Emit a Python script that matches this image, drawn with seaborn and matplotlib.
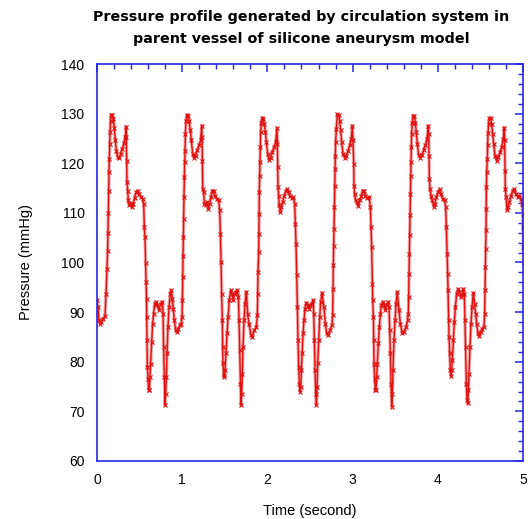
import pandas as pd
import matplotlib
matplotlib.use("Agg")
import matplotlib.pyplot as plt
from matplotlib.ticker import MultipleLocator
import seaborn as sns

# valores, um ciclo por lista (tempo em s, pressão em mmHg)
tempo_c1 = [0.000, 0.012, 0.023, 0.039, 0.051, 0.070, 0.094, 0.106, 0.117, 0.125, 0.129, 0.133,
            0.137, 0.141, 0.145, 0.149, 0.153, 0.160, 0.168, 0.180, 0.192, 0.203, 0.215, 0.227,
            0.243, 0.258, 0.278, 0.297, 0.317, 0.333, 0.340, 0.344, 0.348, 0.352, 0.360, 0.368,
            0.380, 0.395, 0.411, 0.426, 0.442, 0.462, 0.477, 0.493, 0.513, 0.536, 0.548, 0.556,
            0.563, 0.571, 0.577, 0.581, 0.583, 0.587, 0.591, 0.599, 0.606, 0.614, 0.622, 0.630,
            0.642, 0.653, 0.665, 0.677, 0.692, 0.708, 0.728, 0.747, 0.767, 0.775, 0.782, 0.790,
            0.798, 0.806, 0.814, 0.822, 0.833, 0.845, 0.861, 0.872, 0.884, 0.896, 0.908, 0.923,
            0.939, 0.955, 0.974, 0.990]
pres_c1 = [92.4, 91.0, 88.4, 87.7, 88.0, 88.7, 89.2, 93.7, 98.6, 102.4, 106.0, 110.0,
           114.5, 118.2, 120.9, 123.8, 126.2, 128.6, 129.8, 129.8, 128.9, 127.2, 124.7, 122.5,
           121.2, 121.1, 121.9, 122.9, 124.0, 125.2, 127.4, 125.2, 120.5, 116.2, 114.5, 112.5,
           111.5, 111.9, 111.2, 111.8, 113.0, 114.2, 114.5, 113.8, 113.2, 112.8, 111.8, 107.1,
           105.1, 99.8, 96.1, 92.7, 89.0, 84.3, 79.0, 76.6, 74.3, 74.3, 77.0, 79.6,
           84.0, 87.7, 89.7, 91.7, 92.1, 91.4, 90.4, 91.7, 92.1, 89.7, 83.0, 77.0,
           71.3, 73.6, 77.0, 81.7, 87.0, 91.0, 93.7, 94.4, 92.7, 90.7, 88.4, 86.4,
           86.0, 86.7, 87.4, 87.7]

tempo_c2 = [0.998, 1.002, 1.006, 1.010, 1.013, 1.017, 1.021, 1.025, 1.029, 1.033, 1.037, 1.045,
            1.057, 1.068, 1.080, 1.096, 1.107, 1.123, 1.139, 1.158, 1.178, 1.198, 1.217, 1.229,
            1.233, 1.237, 1.241, 1.252, 1.260, 1.276, 1.291, 1.307, 1.322, 1.338, 1.354, 1.369,
            1.385, 1.405, 1.428, 1.440, 1.448, 1.456, 1.463, 1.471, 1.475, 1.479, 1.487, 1.495,
            1.503, 1.514, 1.526, 1.538, 1.553, 1.569, 1.585, 1.600, 1.616, 1.632, 1.647, 1.659,
            1.667, 1.675, 1.683, 1.690, 1.698, 1.706, 1.714, 1.726, 1.737, 1.753]
pres_c2 = [89.0, 92.4, 97.1, 101.4, 105.1, 108.8, 113.2, 117.2, 120.2, 122.5, 125.9, 128.6,
           129.8, 129.6, 128.6, 126.6, 124.6, 121.9, 121.1, 121.5, 122.7, 123.6, 124.7, 127.6,
           125.2, 120.5, 114.8, 114.2, 111.8, 111.5, 112.2, 110.8, 111.8, 113.2, 114.4, 114.5,
           113.5, 112.7, 112.5, 110.5, 105.8, 100.1, 93.7, 88.4, 83.0, 79.7, 77.3, 77.0,
           78.3, 81.7, 85.7, 89.0, 92.4, 94.4, 93.7, 92.4, 93.7, 94.1, 94.4, 93.1,
           88.4, 82.3, 75.6, 71.3, 73.6, 77.6, 83.0, 88.4, 91.7, 94.1]

tempo_c3 = [1.768, 1.784, 1.808, 1.823, 1.847, 1.870, 1.882, 1.886, 1.890, 1.898, 1.901, 1.903,
            1.905, 1.909, 1.913, 1.917, 1.921, 1.929, 1.941, 1.952, 1.964, 1.976, 1.988, 2.003,
            2.019, 2.038, 2.058, 2.078, 2.097, 2.113, 2.117, 2.121, 2.125, 2.132, 2.140, 2.152,
            2.164, 2.179, 2.199, 2.218, 2.234, 2.250, 2.265, 2.285, 2.305, 2.320, 2.328, 2.336,
            2.344, 2.352, 2.359, 2.367, 2.375, 2.383, 2.391, 2.399, 2.407, 2.418, 2.430, 2.442,
            2.457, 2.473, 2.489, 2.504, 2.520, 2.536, 2.544, 2.551, 2.559, 2.567, 2.575, 2.583,
            2.591, 2.602, 2.614, 2.626, 2.641]
pres_c3 = [89.7, 87.7, 85.3, 85.0, 86.4, 87.0, 89.4, 93.7, 98.1, 102.1, 105.8, 109.8,
           114.2, 117.5, 120.2, 123.2, 126.2, 128.2, 129.2, 128.9, 127.9, 126.2, 124.2, 121.9,
           120.7, 121.1, 122.2, 123.2, 124.2, 127.1, 123.9, 119.2, 115.2, 113.5, 111.5, 110.1,
           111.2, 112.2, 113.5, 114.5, 114.8, 114.2, 113.3, 113.0, 113.2, 111.8, 107.8, 103.8,
           97.4, 91.0, 84.3, 79.0, 75.6, 74.0, 75.0, 78.3, 81.7, 85.7, 88.4, 90.7,
           91.9, 91.4, 90.7, 91.4, 91.7, 92.4, 89.7, 84.3, 78.3, 73.6, 71.3, 75.0,
           79.7, 84.3, 89.0, 92.1, 93.9]

tempo_c4 = [2.664, 2.680, 2.696, 2.715, 2.735, 2.758, 2.766, 2.770, 2.774, 2.778, 2.781, 2.785,
            2.789, 2.793, 2.797, 2.801, 2.809, 2.821, 2.836, 2.848, 2.860, 2.872, 2.887, 2.907,
            2.926, 2.946, 2.966, 2.985, 2.997, 3.005, 3.013, 3.017, 3.024, 3.036, 3.052, 3.067,
            3.083, 3.103, 3.118, 3.134, 3.150, 3.169, 3.193, 3.209, 3.216, 3.224, 3.232, 3.236,
            3.244, 3.248, 3.252, 3.259, 3.267, 3.275, 3.283, 3.291, 3.302, 3.314, 3.326, 3.338,
            3.353, 3.369, 3.385, 3.400, 3.416, 3.428, 3.436, 3.443, 3.451, 3.459, 3.467, 3.474,
            3.486, 3.498, 3.510, 3.524]
pres_c4 = [91.0, 87.7, 85.7, 85.3, 86.4, 87.4, 89.4, 94.7, 99.4, 103.4, 106.8, 111.1,
           115.5, 118.9, 121.5, 124.2, 126.9, 129.9, 129.8, 128.6, 126.6, 124.2, 121.9, 121.1,
           121.5, 122.5, 123.6, 124.9, 127.6, 124.6, 119.9, 115.5, 113.8, 112.5, 112.2, 111.3,
           112.5, 113.5, 114.5, 114.5, 113.5, 113.0, 113.2, 111.2, 107.1, 103.1, 95.7, 92.4,
           89.0, 84.3, 79.6, 76.6, 74.3, 74.3, 77.0, 79.6, 83.7, 87.0, 89.7, 91.4,
           92.1, 91.4, 90.4, 91.4, 92.1, 91.0, 86.4, 81.7, 75.6, 70.9, 73.6, 78.3,
           84.3, 88.4, 91.7, 94.1]

tempo_c5 = [3.545, 3.560, 3.584, 3.603, 3.627, 3.646, 3.654, 3.658, 3.662, 3.666, 3.670, 3.674,
            3.678, 3.681, 3.685, 3.689, 3.693, 3.701, 3.713, 3.724, 3.736, 3.748, 3.760, 3.775,
            3.795, 3.815, 3.834, 3.854, 3.874, 3.889, 3.893, 3.897, 3.901, 3.909, 3.920, 3.936,
            3.952, 3.967, 3.983, 4.002, 4.022, 4.038, 4.057, 4.081, 4.093, 4.100, 4.108, 4.116,
            4.120, 4.128, 4.132, 4.140, 4.147, 4.155, 4.163, 4.171, 4.183, 4.194, 4.206, 4.222,
            4.237, 4.253, 4.269, 4.284, 4.300, 4.312, 4.319, 4.327, 4.335, 4.343, 4.351, 4.359,
            4.366, 4.378, 4.390, 4.402, 4.417]
pres_c5 = [90.4, 87.7, 85.7, 86.0, 87.0, 88.4, 89.7, 93.1, 97.7, 101.8, 105.5, 109.5,
           113.8, 117.5, 120.2, 123.2, 125.9, 128.2, 129.6, 129.6, 128.2, 126.2, 123.9, 121.7,
           121.1, 121.7, 122.7, 123.6, 124.9, 127.6, 125.9, 121.5, 116.8, 114.8, 113.5, 112.5,
           111.2, 111.8, 113.2, 114.2, 114.8, 113.8, 112.8, 112.5, 111.2, 107.1, 101.8, 97.7,
           94.4, 88.4, 85.0, 81.7, 78.3, 77.1, 78.3, 80.3, 84.3, 88.0, 91.0, 93.7,
           94.7, 94.1, 93.1, 93.4, 94.7, 93.7, 88.4, 83.0, 75.6, 72.3, 71.6, 74.3,
           77.6, 83.0, 87.7, 91.0, 93.9]

tempo_c6 = [4.433, 4.444, 4.456, 4.472, 4.487, 4.503, 4.523, 4.542, 4.550, 4.554, 4.558, 4.562,
            4.566, 4.568, 4.570, 4.574, 4.581, 4.585, 4.589, 4.597, 4.605, 4.621, 4.632, 4.644,
            4.656, 4.671, 4.691, 4.710, 4.730, 4.750, 4.769, 4.781, 4.785, 4.789, 4.793, 4.801,
            4.813, 4.824, 4.840, 4.860, 4.879, 4.899, 4.918, 4.938, 4.958, 4.977, 4.989, 4.997,
            5.001, 5.005, 5.009]
pres_c6 = [91.7, 89.7, 87.7, 85.7, 85.1, 86.0, 86.7, 87.0, 89.7, 94.4, 99.1, 102.8,
           106.5, 110.8, 115.2, 118.2, 120.9, 123.6, 126.0, 127.9, 129.1, 129.1, 127.9, 125.9,
           123.9, 121.5, 120.5, 121.2, 122.2, 123.2, 124.9, 127.2, 124.6, 118.5, 114.8, 113.2,
           110.5, 111.2, 112.2, 113.5, 114.5, 114.8, 113.8, 113.2, 113.5, 112.8, 111.8, 109.8,
           107.1, 103.1, 99.8]

df = pd.DataFrame({
    'Tempo': tempo_c1 + tempo_c2 + tempo_c3 + tempo_c4 + tempo_c5 + tempo_c6,
    'Pressao': pres_c1 + pres_c2 + pres_c3 + pres_c4 + pres_c5 + pres_c6,
})

sns.set_style('white')
plt.rcParams['font.family'] = ['Liberation Sans', 'DejaVu Sans']
plt.rcParams['text.color'] = 'black'
plt.rcParams['axes.labelcolor'] = 'black'

azul = '#2626e6'
vermelho = '#e01010'

fig = plt.figure(figsize=(5.28, 5.19), dpi=100)
ax = fig.add_axes([97 / 528, 1 - 461 / 519, 426 / 528, 397 / 519])

# linha de fundo mais larga e clara, imitando o traço denso do original
ax.plot(df['Tempo'], df['Pressao'], color='#f08080', lw=2.4, alpha=0.7, solid_capstyle='round')
sns.lineplot(data=df, x='Tempo', y='Pressao', ax=ax, sort=False, estimator=None,
             color=vermelho, lw=1.0, marker='x', markersize=2.5, markeredgewidth=0.8,
             markeredgecolor=vermelho)

ax.set_xlim(0, 5)
ax.set_ylim(60, 140)
ax.xaxis.set_major_locator(MultipleLocator(1))
ax.xaxis.set_minor_locator(MultipleLocator(0.2))
ax.yaxis.set_major_locator(MultipleLocator(10))
ax.yaxis.set_minor_locator(MultipleLocator(2))
ax.tick_params(which='both', direction='in', top=True, right=True, color=azul,
               labelsize=10, labelcolor='black')
ax.tick_params(which='major', length=6, width=1.1)
ax.tick_params(which='minor', length=3.5, width=1.0)
ax.tick_params(axis='y', pad=9)
ax.tick_params(axis='x', pad=9)
for s in ax.spines.values():
    s.set_color(azul)
    s.set_linewidth(1.2)

ax.set_xlabel('Time (second)', fontsize=10.5, labelpad=12, color='black')
ax.set_ylabel('Pressure (mmHg)', fontsize=10.5, labelpad=20, color='black')

fig.text(0.570, 1 - 10 / 519,
         'Pressure profile generated by circulation system in\nparent vessel of silicone aneurysm model',
         ha='center', va='top', fontsize=10.3, fontweight='bold', linespacing=1.75,
         family=['DejaVu Sans'], color='black')

fig.savefig('out.png', dpi=100, facecolor='white')
